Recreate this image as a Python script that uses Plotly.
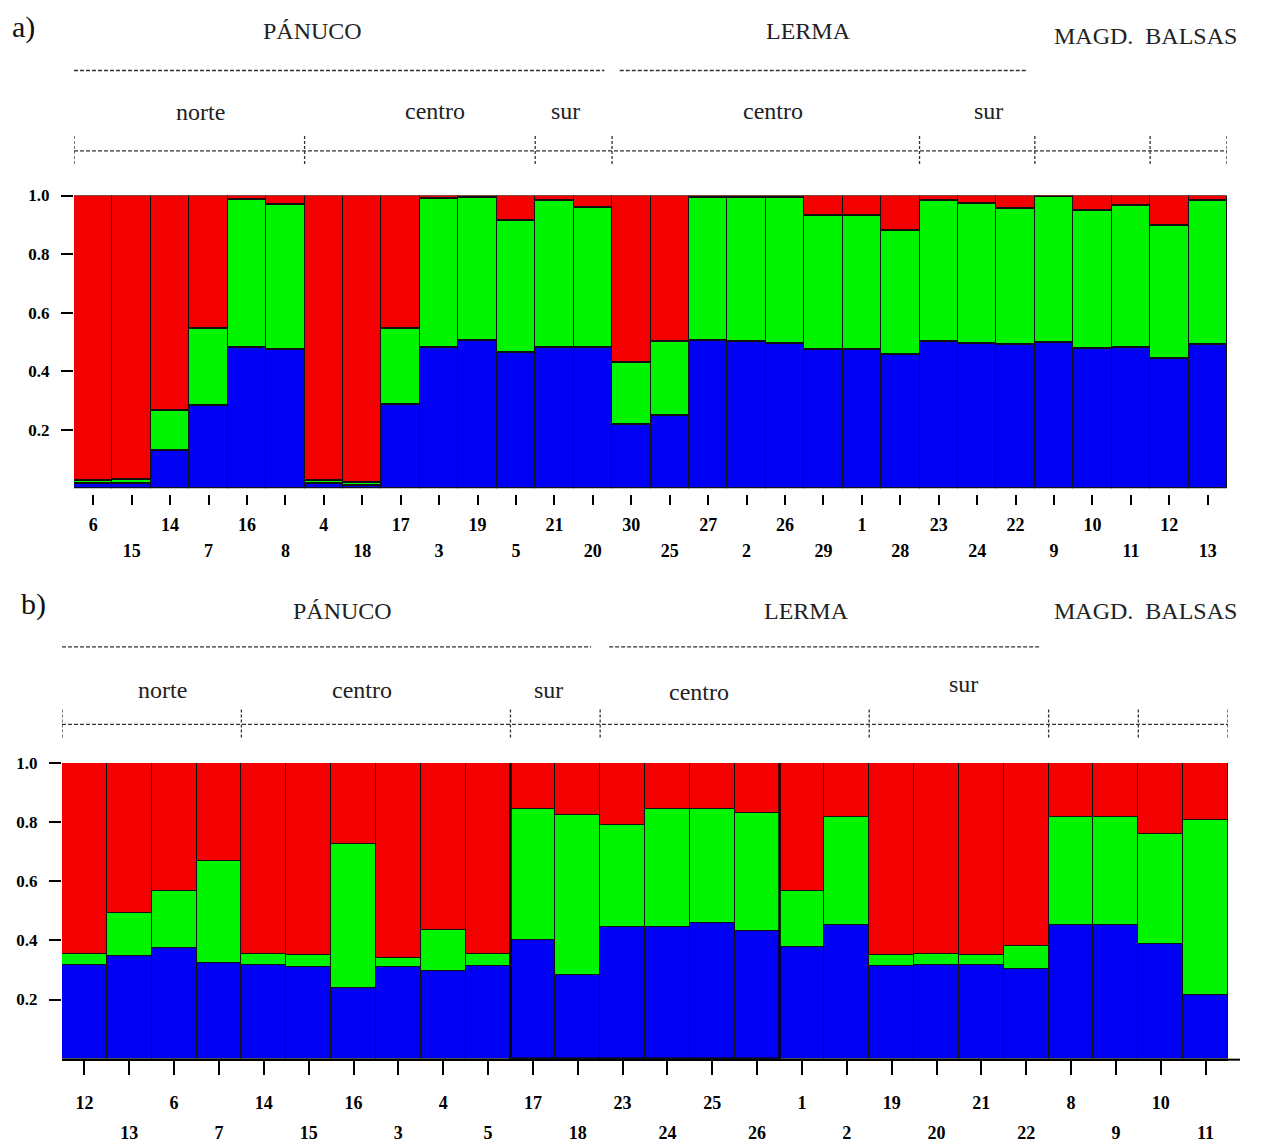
import plotly.graph_objects as go

# ---------------- data ----------------
# Panel a: populations in plotting order and cluster memberships (blue / green / red)
pops_a = [6, 15, 14, 7, 16, 8, 4, 18, 17, 3, 19, 5, 21, 20, 30,
          25, 27, 2, 26, 29, 1, 28, 23, 24, 22, 9, 10, 11, 12, 13]
blue_a = [0.015, 0.015, 0.128, 0.283, 0.479, 0.473, 0.015, 0.008, 0.285, 0.481,
          0.505, 0.464, 0.479, 0.479, 0.219, 0.249, 0.505, 0.502, 0.494, 0.473,
          0.473, 0.456, 0.502, 0.494, 0.490, 0.498, 0.476, 0.479, 0.443, 0.490]
green_a = [0.012, 0.013, 0.136, 0.261, 0.507, 0.496, 0.011, 0.012, 0.260, 0.508,
           0.489, 0.449, 0.504, 0.481, 0.209, 0.253, 0.489, 0.492, 0.498, 0.459,
           0.459, 0.425, 0.481, 0.478, 0.465, 0.500, 0.473, 0.487, 0.455, 0.493]
red_a = [0.973, 0.972, 0.736, 0.456, 0.014, 0.031, 0.974, 0.980, 0.455, 0.011,
         0.006, 0.087, 0.017, 0.040, 0.572, 0.498, 0.006, 0.006, 0.008, 0.068,
         0.068, 0.119, 0.017, 0.028, 0.045, 0.002, 0.051, 0.034, 0.102, 0.017]

# Panel b
pops_b = [12, 13, 6, 7, 14, 15, 16, 3, 4, 5, 17, 18, 23,
          24, 25, 26, 1, 2, 19, 20, 21, 22, 8, 9, 10, 11]
blue_b = [0.316, 0.346, 0.374, 0.324, 0.316, 0.311, 0.238, 0.310, 0.298, 0.315,
          0.402, 0.283, 0.445, 0.447, 0.458, 0.432, 0.377, 0.453, 0.313, 0.316,
          0.316, 0.302, 0.453, 0.453, 0.389, 0.216]
green_b = [0.039, 0.148, 0.192, 0.344, 0.039, 0.039, 0.488, 0.031, 0.138, 0.040,
           0.444, 0.540, 0.345, 0.399, 0.388, 0.398, 0.189, 0.363, 0.039, 0.039,
           0.036, 0.078, 0.363, 0.363, 0.371, 0.592]
red_b = [0.645, 0.506, 0.434, 0.332, 0.645, 0.650, 0.274, 0.659, 0.564, 0.645,
         0.154, 0.177, 0.210, 0.154, 0.154, 0.170, 0.434, 0.184, 0.648, 0.645,
         0.648, 0.620, 0.184, 0.184, 0.240, 0.192]

# Region groupings (label, number of populations)
regions_a = [("norte", 6), ("centro", 6), ("sur", 2), ("centro", 8), ("sur", 3), ("", 3), ("", 2)]
basins_a = [("PÁNUCO", 14), ("LERMA", 11)]
regions_b = [("norte", 4), ("centro", 6), ("sur", 2), ("centro", 6), ("sur", 4), ("", 2), ("", 2)]
basins_b = [("PÁNUCO", 12), ("LERMA", 10)]
extra_basins = "MAGD.  BALSAS"
highlight_b = (10, 15)   # populations 17 ... 26 framed in panel b

# ---------------- layout constants ----------------
W, H = 1268, 1143
COL_BLUE, COL_GREEN, COL_RED = "#0000f4", "#00f400", "#f40000"
SERIF = "Liberation Serif"
HEAD_SIZE = 24


def px_x(p):
    return p / W


def px_y(p):
    return 1 - p / H


panels = [
    dict(name="a)", pops=pops_a, blue=blue_a, green=green_a, red=red_a,
         regions=regions_a, basins=basins_a,
         x0=74, x1=1227, ytop=188, ybot=483, axis_y=489,
         ticklen=10, stand_top=4, stand_bot=44,
         head_y=22, dash_y=62, sub_y=104, br_y=143, tag_xy=(23, 18),
         basin_nudge=[-0.8, -0.4], sub_nudge=[0.3, 0.4, -0.2, 0.2, 0.3, 0, 0],
         sub_dy=[0, -1, -1, -1, -1, 0, 0],
         extra_x=1145, extra_dy=5, xa="x", ya="y", xa_lab="x3"),
    dict(name="b)", pops=pops_b, blue=blue_b, green=green_b, red=red_b,
         regions=regions_b, basins=basins_b,
         x0=62, x1=1228, ytop=760, ybot=1058, axis_y=1059,
         ticklen=14, stand_top=13, stand_bot=60,
         head_y=607, dash_y=643, sub_y=686, br_y=721, tag_xy=(33, 600),
         basin_nudge=[0.25, -0.4], sub_nudge=[0.25, -0.3, -0.15, -0.8, 0.1, 0, 0],
         sub_dy=[0, 0, 0, 2, -6, 0, 0],
         extra_x=1145, extra_dy=0, xa="x2", ya="y2", xa_lab="x4"),
]

fig = go.Figure()
shapes, annotations = [], []
layout = {}

for k, P in enumerate(panels):
    n = len(P["pops"])
    idx = list(range(n))
    for vals, col in ((P["blue"], COL_BLUE), (P["green"], COL_GREEN), (P["red"], COL_RED)):
        fig.add_trace(go.Bar(
            x=idx, y=vals, xaxis=P["xa"], yaxis=P["ya"], width=1.0,
            marker=dict(color=col, line=dict(color="#111111", width=1.2)),
            showlegend=False, hoverinfo="skip"))

    odd_vals = [i for i in idx if i % 2 == 1]
    odd_text = [str(P["pops"][i]) for i in odd_vals]
    # carrier for the second row of population labels
    fig.add_trace(go.Scatter(
        x=odd_vals, y=[None] * len(odd_vals), xaxis=P["xa_lab"], yaxis=P["ya"],
        mode="markers", showlegend=False, hoverinfo="skip"))

    xdom = [px_x(P["x0"]), px_x(P["x1"])]
    ydom = [px_y(P["ybot"]), px_y(P["ytop"])]
    pos = px_y(P["axis_y"])
    tickfont = dict(family=SERIF, size=18, color="black", weight="bold")
    top_text = [str(p) if i % 2 == 0 else "" for i, p in enumerate(P["pops"])]

    xname = "xaxis" if k == 0 else "xaxis2"
    yname = "yaxis" if k == 0 else "yaxis2"
    labname = "xaxis3" if k == 0 else "xaxis4"
    layout[xname] = dict(
        domain=xdom, range=[-0.5, n - 0.5], anchor="free", position=pos,
        tickmode="array", tickvals=idx, ticktext=top_text, ticks="outside",
        ticklen=P["ticklen"], tickwidth=2, tickcolor="black", tickfont=tickfont,
        ticklabelstandoff=P["stand_top"],
        showgrid=False, zeroline=False, fixedrange=True,
        showline=(k == 1), linecolor="black", linewidth=2)
    layout[labname] = dict(
        domain=xdom, range=[-0.5, n - 0.5], overlaying=P["xa"], anchor="free",
        position=pos, tickmode="array", tickvals=odd_vals, ticktext=odd_text,
        ticks="", tickfont=tickfont, ticklabelstandoff=P["stand_bot"],
        showgrid=False, zeroline=False, showline=False, fixedrange=True)
    layout[yname] = dict(
        domain=ydom, range=[0, 1], anchor=P["xa"], tickmode="array",
        tickvals=[0.2, 0.4, 0.6, 0.8, 1.0],
        ticktext=["0.2", "0.4", "0.6", "0.8", "1.0"], ticks="outside",
        ticklen=12, tickwidth=2, tickcolor="black", ticklabelstandoff=8,
        tickfont=dict(family=SERIF, size=17, color="black", weight="bold"),
        showgrid=False, zeroline=False, showline=False, fixedrange=True)

    # panel tag
    annotations.append(dict(
        text=P["name"], xref="paper", yref="paper", x=px_x(P["tag_xy"][0]),
        y=px_y(P["tag_xy"][1]), showarrow=False, xanchor="center", yanchor="middle",
        font=dict(family=SERIF, size=30, color="#111")))

    # basin headers with dashed rules
    start = 0
    for j, (label, cnt) in enumerate(P["basins"]):
        end = start + cnt - 1
        annotations.append(dict(
            text=label, xref=P["xa"], yref="paper",
            x=(start + end) / 2 + P["basin_nudge"][j], y=px_y(P["head_y"]),
            xanchor="center", yanchor="middle", showarrow=False,
            font=dict(family=SERIF, size=HEAD_SIZE, color="#222")))
        shapes.append(dict(
            type="line", xref=P["xa"], yref="paper",
            x0=start - 0.5 + (0 if j == 0 else 0.2), x1=end + 0.5 - 0.2,
            y0=px_y(P["dash_y"]), y1=px_y(P["dash_y"]),
            line=dict(color="#333", width=1.3, dash="4px,2px")))
        start = end + 1
    annotations.append(dict(
        text=extra_basins, xref="paper", yref="paper", x=px_x(P["extra_x"]),
        y=px_y(P["head_y"] + P["extra_dy"]), xanchor="center", yanchor="middle",
        showarrow=False, font=dict(family=SERIF, size=HEAD_SIZE, color="#222")))

    # regional brackets
    start = 0
    bounds = [-0.5]
    for j, (label, cnt) in enumerate(P["regions"]):
        end = start + cnt - 1
        if label:
            annotations.append(dict(
                text=label, xref=P["xa"], yref="paper",
                x=(start + end) / 2 + P["sub_nudge"][j],
                y=px_y(P["sub_y"] + P["sub_dy"][j]),
                xanchor="center", yanchor="middle", showarrow=False,
                font=dict(family=SERIF, size=HEAD_SIZE, color="#222")))
        bounds.append(end + 0.5)
        start = end + 1
    shapes.append(dict(
        type="line", xref=P["xa"], yref="paper", x0=-0.5, x1=n - 0.5,
        y0=px_y(P["br_y"]), y1=px_y(P["br_y"]),
        line=dict(color="#333", width=1.3, dash="4px,2px")))
    for b in bounds:
        shapes.append(dict(
            type="line", xref=P["xa"], yref="paper", x0=b, x1=b,
            y0=px_y(P["br_y"] - 15), y1=px_y(P["br_y"] + 15),
            line=dict(color="#333", width=1.3, dash="3px,2px")))

# framed group in panel b
shapes.append(dict(
    type="rect", xref="x2", yref="y2", x0=highlight_b[0] - 0.5,
    x1=highlight_b[1] + 0.5, y0=0, y1=1.004,
    line=dict(color="black", width=2.5), fillcolor="rgba(0,0,0,0)"))
# baseline of panel b runs a little past the last bar
shapes.append(dict(
    type="line", xref="paper", yref="paper", x0=px_x(1228), x1=px_x(1240),
    y0=px_y(1059), y1=px_y(1059), line=dict(color="black", width=2)))

fig.update_layout(
    width=W, height=H, margin=dict(l=0, r=0, t=0, b=0),
    paper_bgcolor="white", plot_bgcolor="white",
    barmode="stack", bargap=0, showlegend=False,
    shapes=shapes, annotations=annotations, **layout)

fig.write_html("out.html")
